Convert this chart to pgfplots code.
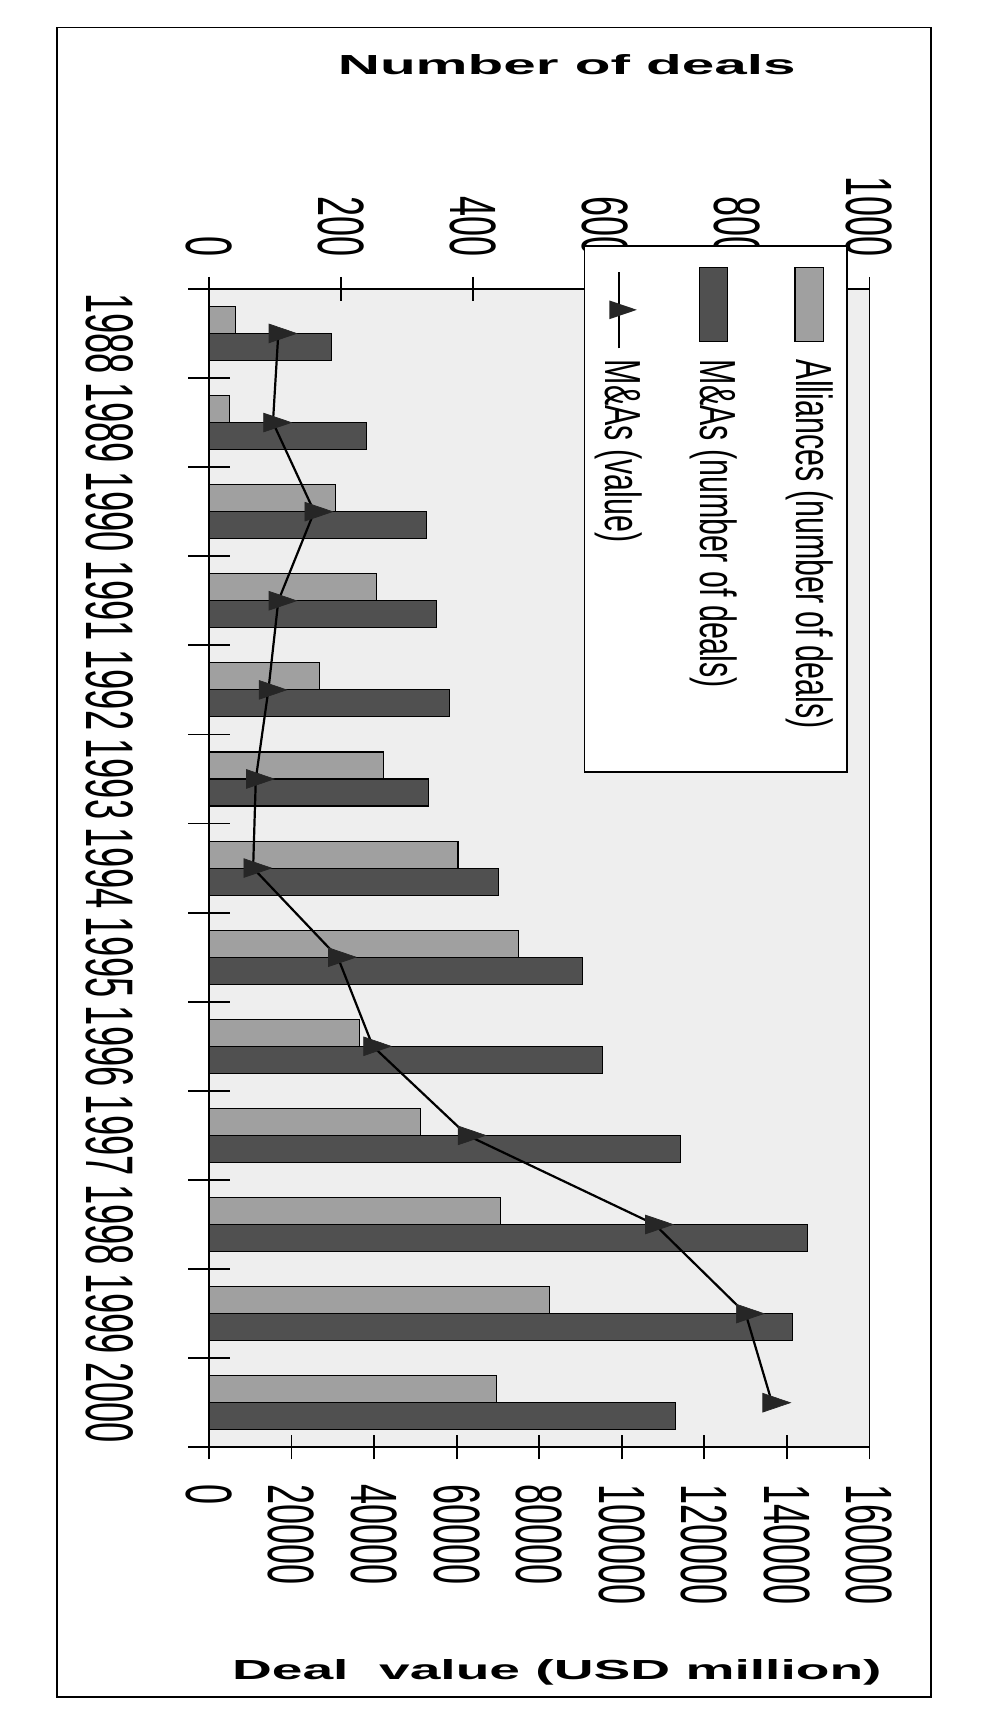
\documentclass[border=0pt]{standalone}
\usepackage{pgfplots}
\usepackage{pgfplotstable}
\pgfplotsset{compat=1.18}
\usepackage{fontspec}
\setmainfont{Liberation Sans}
\newfontfamily\tickfont[FakeStretch=0.55]{Liberation Sans}
\newfontfamily\yearfont[FakeStretch=0.54]{Liberation Sans}
\newfontfamily\legfont[FakeStretch=0.6]{Liberation Sans}
\newfontfamily\titlefontA[FakeStretch=2.12]{Liberation Sans}
\newfontfamily\titlefontB[FakeStretch=2.0]{Liberation Sans}
\definecolor{alli}{HTML}{A0A0A0}
\definecolor{mna}{HTML}{505050}
\definecolor{plotbg}{HTML}{EEEEEE}
\definecolor{mk}{HTML}{262626}

\pgfdeclareplotmark{rtri}{%
  \pgfpathmoveto{\pgfqpoint{8.3pt}{0pt}}%
  \pgfpathlineto{\pgfqpoint{-4.2pt}{4.25pt}}%
  \pgfpathlineto{\pgfqpoint{-4.2pt}{-4.25pt}}%
  \pgfpathclose\pgfusepathqfillstroke}

\pgfplotstableread{
pos year alli mna val
13 1988 40 186 16800
12 1989 31 238 15500
11 1990 192 329 25500
10 1991 254 345 16800
9 1992 167 364 14400
8 1993 264 333 11350
7 1994 377 438 10700
6 1995 468 566 31200
5 1996 228 596 39700
4 1997 320 714 62600
3 1998 441 906 108000
2 1999 515 883 130000
1 2000 435 706 136400
}\datatable

\pgfplotsset{myframe/.style={
  at={(94.75pt,127.75pt)}, anchor=south west,
  scale only axis, width=299.5pt, height=525.25pt,
  ymin=0.5, ymax=13.5,
  axis line style={line width=0.8pt},
  tick style={line width=0.8pt, black},
  tick align=center,
  /pgf/number format/fixed,
  /pgf/number format/assume math mode=true,
  /pgf/number format/1000 sep={},
}}

\begin{document}
\begin{tikzpicture}
\useasboundingbox (0,0) rectangle (450.5pt,784pt);
\fill[white] (0,0) rectangle (450.5pt,784pt);

% bars, top axis (number of deals)
\begin{axis}[myframe,
  xbar, bar width=12.25pt,
  xmin=0, xmax=1000,
  axis background/.style={fill=plotbg},
  xtick={0,200,...,1000}, xtick pos=upper, xticklabel pos=upper,
  major tick length=11pt,
  ytick=\empty,
  xticklabel style={font=\tickfont\fontsize{29.7pt}{30pt}\selectfont, inner sep=0pt, yshift=9pt, rotate=-90, anchor=east},
]
\addplot[fill=alli, draw=black, line width=0.5pt, bar shift=6.125pt] table[x=alli,y=pos]{\datatable};
\addplot[fill=mna, draw=black, line width=0.5pt, bar shift=-6.125pt] table[x=mna,y=pos]{\datatable};
\end{axis}

% category boundary ticks
\begin{axis}[myframe,
  xmin=0, xmax=1,
  axis x line=none, axis y line*=left,
  xtick=\empty,
  ytick={0.5,1.5,...,13.5}, yticklabel=\empty,
  major tick length=19pt,
]
\end{axis}

% line, bottom axis (deal value), year labels
\begin{axis}[myframe,
  xmin=0, xmax=160000,
  axis x line*=bottom, axis y line*=left,
  scaled x ticks=false,
  xtick={0,20000,...,160000},
  major tick length=11pt,
  ytick={1,...,13},
  yticklabels={2000,1999,1998,1997,1996,1995,1994,1993,1992,1991,1990,1989,1988},
  ytick style={draw=none},
  xticklabel style={font=\tickfont\fontsize{29.7pt}{30pt}\selectfont, inner sep=0pt, yshift=-11pt, rotate=-90, anchor=west},
  yticklabel style={font=\yearfont\fontsize{30.5pt}{31pt}\selectfont, inner sep=0pt, xshift=-28.5pt, rotate=-90, anchor=north},
]
\addplot[black, line width=1pt, mark=rtri, mark options={fill=mk, draw=mk, line width=0.3pt}] table[x=val,y=pos]{\datatable};
\end{axis}

% legend
\draw[fill=white, line width=0.8pt] (265pt,434pt) rectangle (384pt,672.5pt);
\draw[fill=alli, line width=0.5pt] (360.5pt,629pt) rectangle (373.5pt,662.5pt);
\draw[fill=mna, line width=0.5pt] (317pt,629pt) rectangle (330pt,662.5pt);
\draw[line width=1pt] (280.5pt,626pt) -- (280.5pt,660.5pt);
\fill[mk] (288.8pt,643.5pt) -- (276.3pt,647.75pt) -- (276.3pt,639.25pt) -- cycle;
\node[font=\legfont\fontsize{23pt}{24pt}\selectfont, rotate=-90, anchor=west, inner sep=0pt] at (367pt,621pt) {Alliances (number of deals)};
\node[font=\legfont\fontsize{23pt}{24pt}\selectfont, rotate=-90, anchor=west, inner sep=0pt] at (323.5pt,621pt) {M\&As (number of deals)};
\node[font=\legfont\fontsize{23pt}{24pt}\selectfont, rotate=-90, anchor=west, inner sep=0pt] at (280.5pt,621pt) {M\&As (value)};

% titles
\node[font=\titlefontA\bfseries\fontsize{12.5pt}{14pt}\selectfont] at (257pt,754.75pt) {Number of deals};
\node[font=\titlefontB\bfseries\fontsize{12.5pt}{14pt}\selectfont] at (252.5pt,25.5pt) {Deal\ \ value (USD million)};

% chart frame
\draw[line width=0.8pt] (26pt,14.5pt) rectangle (422pt,771.5pt);
\end{tikzpicture}
\end{document}
